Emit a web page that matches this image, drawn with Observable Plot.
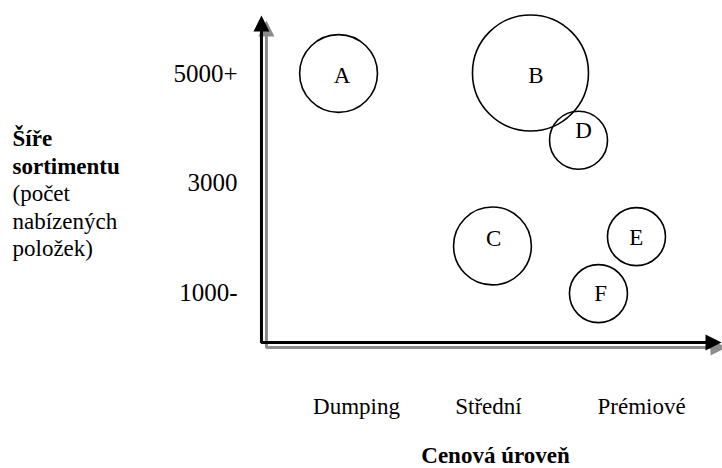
<!DOCTYPE html>
<html>
<head>
<meta charset="utf-8">
<script src="https://cdn.jsdelivr.net/npm/d3@7"></script>
<script src="https://cdn.jsdelivr.net/npm/@observablehq/plot@0.6"></script>
<style>
  html, body { margin: 0; padding: 0; background: #fff; }
</style>
</head>
<body>
<div id="wrap"></div>
<script>
// Bubbles (x = price level, y = assortment breadth, size = relative bubble size)
const names      = ["A", "B", "C", "D", "E", "F"];
const price      = [0.864, 2.318, 2.03, 2.682, 3.121, 2.833];
const assortment = [5000, 5010, 1850, 3780, 2020, 980];
const size       = [18, 40, 18, 10, 10, 10];
const labelPrice = [0.89, 2.36, 2.04, 2.72, 3.12, 2.85];
const labelAssort= [4970, 4970, 1990, 3960, 2000, 980];

// Tick labels
const xTicks  = [1, 2, 3.16];
const xLabels = ["Dumping", "Střední", "Prémiové"];
const yTicks  = [1000, 3000, 5000];
const yLabels = ["1000-", "3000", "5000+"];

// Axis titles
const yTitleBold = "Šíře\nsortimentu";
const yTitleNote = "(počet\nnabízených\npoložek)";
const xTitle = "Cenová úroveň";

// Axis arrows (origin and tips in data units)
const axisOrigin = [0.28, 87];
const axisTipX = 3.765;
const axisTipY = 6059;

const bubbles = names.map((n, i) => ({name: n, price: price[i], assortment: assortment[i], size: size[i], lx: labelPrice[i], ly: labelAssort[i]}));
const axisPath = [[axisOrigin[0], axisTipY - 180], [axisOrigin[0], axisOrigin[1]], [axisTipX - 0.08, axisOrigin[1]]];
const tips = [{x: axisOrigin[0], y: axisTipY, rot: 0}, {x: axisTipX, y: axisOrigin[1], rot: 90}];

const arrowHead = {
  draw(ctx, s) {
    const r = Math.sqrt(s / Math.PI);
    ctx.moveTo(0, 0);
    ctx.lineTo(r, 2 * r);
    ctx.lineTo(-r, 2 * r);
    ctx.closePath();
  }
};

const serif = "'Liberation Serif', 'Times New Roman', serif";
const chart = Plot.plot({
  width: 722,
  height: 468,
  marginLeft: 290,
  marginRight: 36,
  marginTop: 18.25,
  marginBottom: 121.25,
  style: {fontFamily: serif, fontSize: "23px", background: "#fff", color: "#000"},
  x: {domain: [0.5, 3.5]},
  y: {domain: [0, 6000]},
  r: {type: "sqrt", domain: [0, 40], range: [0, 58]},
  marks: [
    // shadows
    Plot.line(axisPath, {x: d => d[0], y: d => d[1], stroke: "#8c8c8c", strokeWidth: 3, dx: 5, dy: 5, strokeLinejoin: "miter", strokeLinecap: "butt"}),
    Plot.dot(tips, {x: "x", y: "y", rotate: "rot", r: 8, symbol: arrowHead, fill: "#8c8c8c", stroke: "none", dx: 5, dy: 5}),
    // axes
    Plot.line(axisPath, {x: d => d[0], y: d => d[1], stroke: "#000", strokeWidth: 3, strokeLinejoin: "miter", strokeLinecap: "butt"}),
    Plot.dot(tips, {x: "x", y: "y", rotate: "rot", r: 8, symbol: arrowHead, fill: "#000", stroke: "none"}),
    // bubbles
    Plot.dot(bubbles, {x: "price", y: "assortment", r: "size", stroke: "#000", strokeWidth: 1.6, fill: "none"}),
    Plot.text(bubbles, {x: "lx", y: "ly", text: "name", fontSize: 23, fontFamily: serif, fill: "#000"}),
    Plot.axisX(xTicks, {tickSize: 0, tickPadding: 50, tickFormat: d => xLabels[xTicks.indexOf(d)], label: null, fontSize: 23, fontFamily: serif}),
    Plot.axisY(yTicks, {tickSize: 0, tickPadding: 53, tickFormat: d => yLabels[yTicks.indexOf(d)], label: null, fontSize: 25, fontFamily: serif}),
    // axis titles
    Plot.text([yTitleBold], {text: d => d, frameAnchor: "top-left", textAnchor: "start", lineAnchor: "top", dx: -278, dy: 108, lineHeight: 1.196, fontSize: 23, fontWeight: "bold", fontFamily: serif, fill: "#000"}),
    Plot.text([yTitleNote], {text: d => d, frameAnchor: "top-left", textAnchor: "start", lineAnchor: "top", dx: -278, dy: 163, lineHeight: 1.196, fontSize: 23, fontFamily: serif, fill: "#000"}),
    Plot.text([xTitle], {text: d => d, frameAnchor: "bottom-left", textAnchor: "middle", lineAnchor: "bottom", dx: 205, dy: 115.5, fontSize: 23, fontWeight: "bold", fontFamily: serif, fill: "#000"})
  ]
});
document.getElementById("wrap").appendChild(chart);
</script>
</body>
</html>
